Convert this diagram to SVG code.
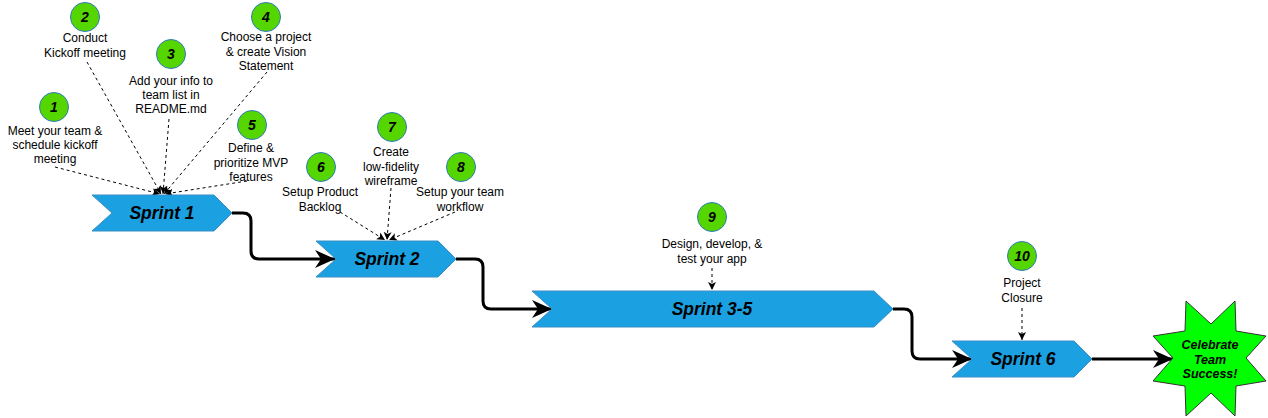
<svg xmlns="http://www.w3.org/2000/svg" width="1268" height="418" viewBox="0 0 1268 418">
<style>
.lbl{font-family:"Liberation Sans",Arial,sans-serif;font-size:12px;fill:#000;text-anchor:middle}
.num{font-family:"Liberation Sans",Arial,sans-serif;font-size:14px;font-weight:bold;font-style:italic;fill:#000;text-anchor:middle}
.spr{font-family:"Liberation Sans",Arial,sans-serif;font-size:17.5px;font-weight:bold;font-style:italic;fill:#000;text-anchor:middle}
.star{font-family:"Liberation Sans",Arial,sans-serif;font-size:12.5px;font-weight:bold;font-style:italic;fill:#000;text-anchor:middle}
.circ{fill:#55d600;stroke:#2d7bbf;stroke-width:1}
.sprint{fill:#1ba1e2;stroke:#3b8fc6;stroke-width:1}
.flow{fill:none;stroke:#000;stroke-width:3;stroke-linejoin:round}
.dash{fill:none;stroke:#000;stroke-width:1;stroke-dasharray:3 3}
</style>
<defs>
<marker id="big" markerUnits="userSpaceOnUse" markerWidth="22" markerHeight="20" refX="20" refY="9" orient="auto">
<path d="M0,0 L20,9 L0,18 L6,9 Z" fill="#000"/>
</marker>
<marker id="small" markerUnits="userSpaceOnUse" markerWidth="10" markerHeight="10" refX="8" refY="4" orient="auto">
<path d="M0,0 L8,4 L0,8 L2,4 Z" fill="#000"/>
</marker>
</defs>

<g id="connectors">
<path class="flow" d="M232,213 H243 Q251,213 251,221 V251 Q251,259 259,259 H335" marker-end="url(#big)"/>
<path class="flow" d="M456,259 H475 Q483,259 483,267 V301 Q483,309 491,309 H552" marker-end="url(#big)"/>
<path class="flow" d="M893,309 H904 Q912,309 912,317 V351 Q912,359 920,359 H972" marker-end="url(#big)"/>
<path class="flow" d="M1092,359 H1173" marker-end="url(#big)"/>
<path class="dash" d="M55,167 L160,194" marker-end="url(#small)"/>
<path class="dash" d="M87,62 L161,194" marker-end="url(#small)"/>
<path class="dash" d="M169,119 L163,194" marker-end="url(#small)"/>
<path class="dash" d="M267,72 L164,194" marker-end="url(#small)"/>
<path class="dash" d="M247,181 L165,194" marker-end="url(#small)"/>
<path class="dash" d="M340,212 L385,240" marker-end="url(#small)"/>
<path class="dash" d="M391,188 L387,240" marker-end="url(#small)"/>
<path class="dash" d="M455,212 L389,240" marker-end="url(#small)"/>
<path class="dash" d="M712,268 L712,290" marker-end="url(#small)"/>
<path class="dash" d="M1022,308 L1022,340" marker-end="url(#small)"/>
</g>

<g id="sprint1">
<polygon class="sprint" points="92,195 214,195 232,213 214,231 92,231 112,213"/>
<text class="spr" x="162" y="219">Sprint 1</text>
</g>
<g id="sprint2">
<polygon class="sprint" points="316,241 438,241 456,259 438,277 316,277 336,259"/>
<text class="spr" x="387" y="265">Sprint 2</text>
</g>
<g id="sprint3-5">
<polygon class="sprint" points="532,291 874,291 893,309 874,327 532,327 552,309"/>
<text class="spr" x="712" y="315">Sprint 3-5</text>
</g>
<g id="sprint6">
<polygon class="sprint" points="952,341 1074,341 1092,359 1074,377 952,377 972,359"/>
<text class="spr" x="1023" y="365">Sprint 6</text>
</g>

<g id="celebrate">
<polygon fill="#00ff00" stroke="#333" stroke-width="1" points="1186,301 1211,324 1235,301 1236,331 1266,336 1246,358 1266,381 1236,386 1235,416 1211,393 1186,416 1185,386 1153,381 1173,358 1153,336 1185,331"/>
<text class="star" x="1210" y="349">Celebrate</text>
<text class="star" x="1210" y="363.5">Team</text>
<text class="star" x="1210" y="378">Success!</text>
</g>

<g id="step1">
<circle class="circ" cx="54" cy="107" r="14.5"/>
<text class="num" x="54" y="112">1</text>
<text class="lbl" x="55" y="134.5">Meet your team &amp;</text>
<text class="lbl" x="55" y="148.5">schedule kickoff</text>
<text class="lbl" x="55" y="162.5">meeting</text>
</g>
<g id="step2">
<circle class="circ" cx="85" cy="17" r="14.5"/>
<text class="num" x="85" y="22">2</text>
<text class="lbl" x="85" y="42">Conduct</text>
<text class="lbl" x="85" y="57">Kickoff meeting</text>
</g>
<g id="step3">
<circle class="circ" cx="171" cy="54" r="14.5"/>
<text class="num" x="171" y="59">3</text>
<text class="lbl" x="171" y="84.5">Add your info to</text>
<text class="lbl" x="171" y="98.5">team list in</text>
<text class="lbl" x="171" y="113">README.md</text>
</g>
<g id="step4">
<circle class="circ" cx="266" cy="17" r="14.5"/>
<text class="num" x="266" y="22">4</text>
<text class="lbl" x="266" y="41">Choose a project</text>
<text class="lbl" x="266" y="55.5">&amp; create Vision</text>
<text class="lbl" x="266" y="70">Statement</text>
</g>
<g id="step5">
<circle class="circ" cx="252" cy="125" r="14.5"/>
<text class="num" x="252" y="130">5</text>
<text class="lbl" x="251" y="152">Define &amp;</text>
<text class="lbl" x="251" y="166.5">prioritize MVP</text>
<text class="lbl" x="251" y="181">features</text>
</g>
<g id="step6">
<circle class="circ" cx="321" cy="167" r="14.5"/>
<text class="num" x="321" y="172">6</text>
<text class="lbl" x="320" y="196">Setup Product</text>
<text class="lbl" x="320" y="211">Backlog</text>
</g>
<g id="step7">
<circle class="circ" cx="392" cy="127" r="14.5"/>
<text class="num" x="392" y="132">7</text>
<text class="lbl" x="391" y="156">Create</text>
<text class="lbl" x="391" y="170.5">low-fidelity</text>
<text class="lbl" x="391" y="185">wireframe</text>
</g>
<g id="step8">
<circle class="circ" cx="461" cy="167" r="14.5"/>
<text class="num" x="461" y="172">8</text>
<text class="lbl" x="460" y="196">Setup your team</text>
<text class="lbl" x="460" y="211">workflow</text>
</g>
<g id="step9">
<circle class="circ" cx="712" cy="217" r="14.5"/>
<text class="num" x="712" y="222">9</text>
<text class="lbl" x="712" y="248">Design, develop, &amp;</text>
<text class="lbl" x="712" y="263">test your app</text>
</g>
<g id="step10">
<circle class="circ" cx="1022" cy="256" r="14.5"/>
<text class="num" x="1022" y="261">10</text>
<text class="lbl" x="1022" y="287">Project</text>
<text class="lbl" x="1022" y="302">Closure</text>
</g>
</svg>
